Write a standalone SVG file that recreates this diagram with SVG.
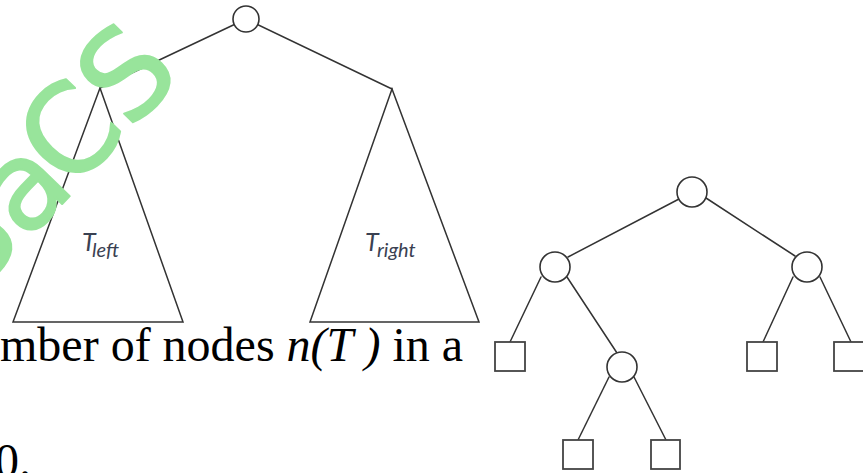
<svg xmlns="http://www.w3.org/2000/svg" width="863" height="473" viewBox="0 0 863 473">
<style>
.edge{stroke:#333;stroke-width:1.5;fill:none;stroke-linecap:round}
.node{stroke:#333;stroke-width:1.6;fill:#fff}
.leaf{stroke:#444;stroke-width:1.8;fill:#fff}
.tl{font-family:Lato,"DejaVu Sans",sans-serif;font-style:italic;fill:#3a4152}
.main{font-family:"Liberation Serif",serif;font-size:48px;fill:#000}
.wm{font-family:"DejaVu Sans",sans-serif;font-size:122px;fill:#98e49b;stroke:#98e49b;stroke-width:2;stroke-linejoin:round}
</style>
<rect width="863" height="473" fill="#fff"/>
<g id="connectors">
<line class="edge" x1="246" y1="19" x2="100" y2="88"/>
<line class="edge" x1="246" y1="19" x2="392" y2="89"/>
<line class="edge" x1="679" y1="199" x2="568" y2="257"/>
<line class="edge" x1="706" y1="198" x2="795" y2="256"/>
<line class="edge" x1="541" y1="277" x2="510" y2="342"/>
<line class="edge" x1="567" y1="277" x2="617" y2="353"/>
<line class="edge" x1="793" y1="277" x2="763" y2="342"/>
<line class="edge" x1="820" y1="277" x2="851" y2="342"/>
<line class="edge" x1="609" y1="377" x2="578" y2="440"/>
<line class="edge" x1="634" y1="377" x2="666" y2="440"/>
</g>
<g id="root1"><circle class="node" cx="246" cy="19" r="13"/></g>
<g id="tleft"><polygon class="edge" points="100,88 13,322 183,322"/>
<text class="tl" x="82" y="251" font-size="25">T</text><text class="tl" x="92" y="257" font-size="20">left</text></g>
<g id="tright"><polygon class="edge" points="392,89 310,322 479,322"/>
<text class="tl" x="365" y="251" font-size="25">T</text><text class="tl" x="377" y="257" font-size="20">right</text></g>
<g id="r2"><circle class="node" cx="692" cy="192" r="15"/></g>
<g id="l2"><circle class="node" cx="555" cy="267" r="15"/></g>
<g id="rr2"><circle class="node" cx="807" cy="267" r="15"/></g>
<g id="m2"><circle class="node" cx="622" cy="367" r="15"/></g>
<g id="sq1"><rect class="leaf" x="495" y="342" width="30" height="29"/></g>
<g id="sq2"><rect class="leaf" x="747" y="342" width="30" height="29"/></g>
<g id="sq3"><rect class="leaf" x="834" y="342" width="32" height="29"/></g>
<g id="sq4"><rect class="leaf" x="563" y="440" width="30" height="29"/></g>
<g id="sq5"><rect class="leaf" x="651" y="440" width="29" height="29"/></g>
<text class="main" x="0" y="361">mber of nodes <tspan font-style="italic">n(T )</tspan> in a</text>
<text class="main" x="-5" y="477">0.</text>
<g id="watermark" transform="translate(100,162) rotate(-46)">
<text class="wm" text-anchor="middle"><tspan x="-148" y="2">S</tspan><tspan x="-72" y="2">a</tspan><tspan x="0" y="0">C</tspan><tspan x="82" y="0">S</tspan></text>
</g>
</svg>
